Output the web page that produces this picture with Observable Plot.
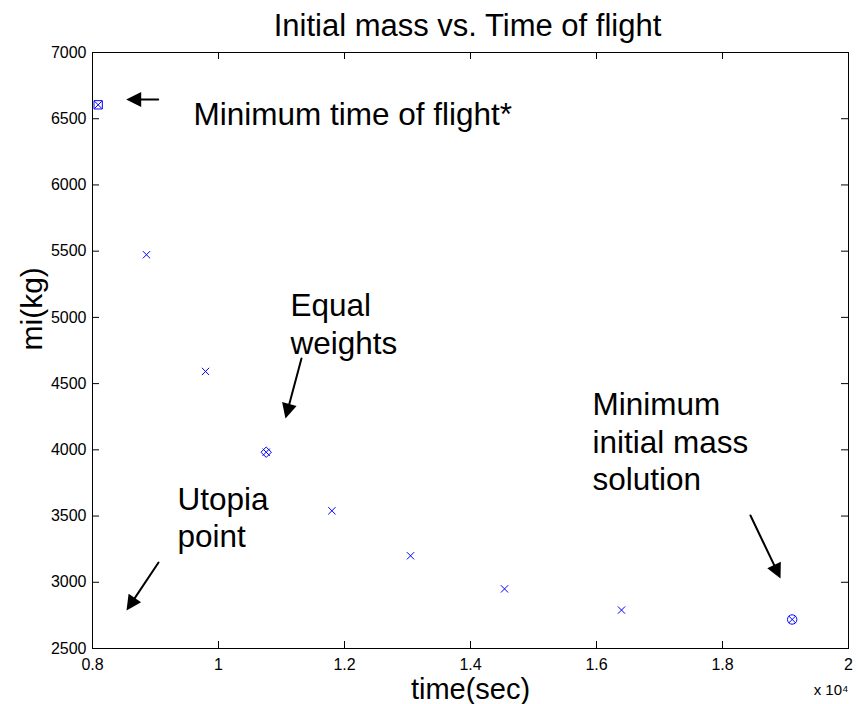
<!DOCTYPE html>
<html><head><meta charset="utf-8">
<script src="https://cdn.jsdelivr.net/npm/d3@7"></script>
<script src="https://cdn.jsdelivr.net/npm/@observablehq/plot@0.6"></script>
<style>body{margin:0;background:#fff} svg{display:block}</style>
</head><body><div id="chart"></div>
<script>
// ---- data ----
const timeSec = [8090, 8857, 9794, 10757, 11800, 13048, 14540, 16397, 19106];
const massKg  = [6605, 5473, 4592, 3982, 3540, 3200, 2950, 2790, 2719];
const highlightIndex = [0, 3, 8];
const highlightSymbol = ["square", "diamond2", "circle"];
const xTicks = [8000, 10000, 12000, 14000, 16000, 18000, 20000];
const yTicks = [2500, 3000, 3500, 4000, 4500, 5000, 5500, 6000, 6500, 7000];
const titleText = "Initial mass vs. Time of flight";
const xLabelText = "time(sec)";
const yLabelText = "mi(kg)";
const xExponentText = "x 10\u2074";
// annotations (data units)
const noteText = ["Minimum time of flight*", "Equal\nweights", "Utopia\npoint", "Minimum\ninitial mass\nsolution"];
const noteX = [9603, 11143, 9349, 15937];
const noteY = [6547, 4958, 3497, 4071];
const arrowX1 = [9043, 11317, 9048, 18444];
const arrowY1 = [6645, 4690, 3149, 3504];
const arrowX2 = [8535, 11063, 8540, 18921];
const arrowY2 = [6645, 4237, 2787, 3029];

const points = timeSec.map((t, i) => ({t, m: massKg[i]}));
const special = highlightIndex.map((k, j) => ({t: timeSec[k], m: massKg[k], s: highlightSymbol[j]}));
const notes = noteText.map((s, i) => ({s, x: noteX[i], y: noteY[i]}));
const arrows = arrowX1.map((x1, i) => ({x1, y1: arrowY1[i], x2: arrowX2[i], y2: arrowY2[i]}));

const FONT = "'Liberation Sans', Arial, Helvetica, sans-serif";
const W = 859, H = 704, ML = 92, MR = 11, MT = 52, MB = 56;
const PW = W - ML - MR, PH = H - MT - MB;
const TICK = 7;

function filledHeads(index, scales, values, dims, ctx, next) {
  const g = next(index, scales, values, dims, ctx);
  const {x1, y1, x2, y2} = values;
  const hl = 15, hw = 7.5;
  for (const i of index) {
    const dx = x2[i] - x1[i], dy = y2[i] - y1[i], L = Math.hypot(dx, dy);
    const ux = dx / L, uy = dy / L;
    const bx = x2[i] - ux * hl, by = y2[i] - uy * hl;
    const p = [[x2[i], y2[i]], [bx - uy * hw, by + ux * hw], [bx + uy * hw, by - ux * hw]];
    d3.select(g).append("path").attr("d", "M" + p.join("L") + "Z").attr("fill", "black").attr("stroke", "none");
  }
  return g;
}

const chart = Plot.plot({
  width: W, height: H,
  marginLeft: ML, marginRight: MR, marginTop: MT, marginBottom: MB,
  style: {fontFamily: FONT, fontSize: "16px", background: "white", color: "black"},
  x: {domain: [8000, 20000]},
  y: {domain: [2500, 7000]},
  marks: [
    Plot.frame({stroke: "black", strokeWidth: 1, fill: "none"}),
    // inward tick marks on all four sides
    Plot.tickX(xTicks, {x: d => d, insetTop: PH - TICK, stroke: "black", strokeWidth: 1}),
    Plot.tickX(xTicks, {x: d => d, insetBottom: PH - TICK, stroke: "black", strokeWidth: 1}),
    Plot.tickY(yTicks, {y: d => d, insetRight: PW - TICK, stroke: "black", strokeWidth: 1}),
    Plot.tickY(yTicks, {y: d => d, insetLeft: PW - TICK, stroke: "black", strokeWidth: 1}),
    // tick labels
    Plot.axisX({anchor: "bottom", ticks: xTicks, tickSize: 0, tickPadding: 10, tickFormat: d => String(+(d / 1e4).toFixed(1)), label: null, fontSize: 16}),
    Plot.axisY({anchor: "left", ticks: yTicks, tickSize: 0, tickPadding: 6, tickFormat: d => String(d), label: null, fontSize: 16}),
    Plot.dot(points, {x: "t", y: "m", symbol: "times", r: 3.4, stroke: "#0000ff", strokeWidth: 1}),
    Plot.dot(special, {x: "t", y: "m", symbol: "s", r: 4.7, stroke: "#0000ff", fill: "none", strokeWidth: 1}),
    Plot.arrow(arrows, {x1: "x1", y1: "y1", x2: "x2", y2: "y2", stroke: "black", strokeWidth: 2, headLength: 0, insetEnd: 10, render: filledHeads}),
    Plot.text(notes, {x: "x", y: "y", text: "s", textAnchor: "start", lineAnchor: "middle", fontSize: 31.5, lineHeight: 1.2, fill: "black"}),
    Plot.text([titleText], {text: d => d, frameAnchor: "top", lineAnchor: "middle", dy: -26, dx: -3, fontSize: 31, fill: "black"}),
    Plot.text([xLabelText], {text: d => d, frameAnchor: "bottom", lineAnchor: "middle", dy: 41, fontSize: 29, fill: "black"}),
    Plot.text([yLabelText], {text: d => d, frameAnchor: "left", lineAnchor: "middle", dx: -60, rotate: -90, fontSize: 30, fill: "black"}),
    Plot.text([xExponentText], {text: d => d, frameAnchor: "bottom-right", lineAnchor: "middle", dy: 42, dx: 0, textAnchor: "end", fontSize: 15, fill: "black"})
  ]
});
document.getElementById("chart").append(chart);
</script></body></html>
